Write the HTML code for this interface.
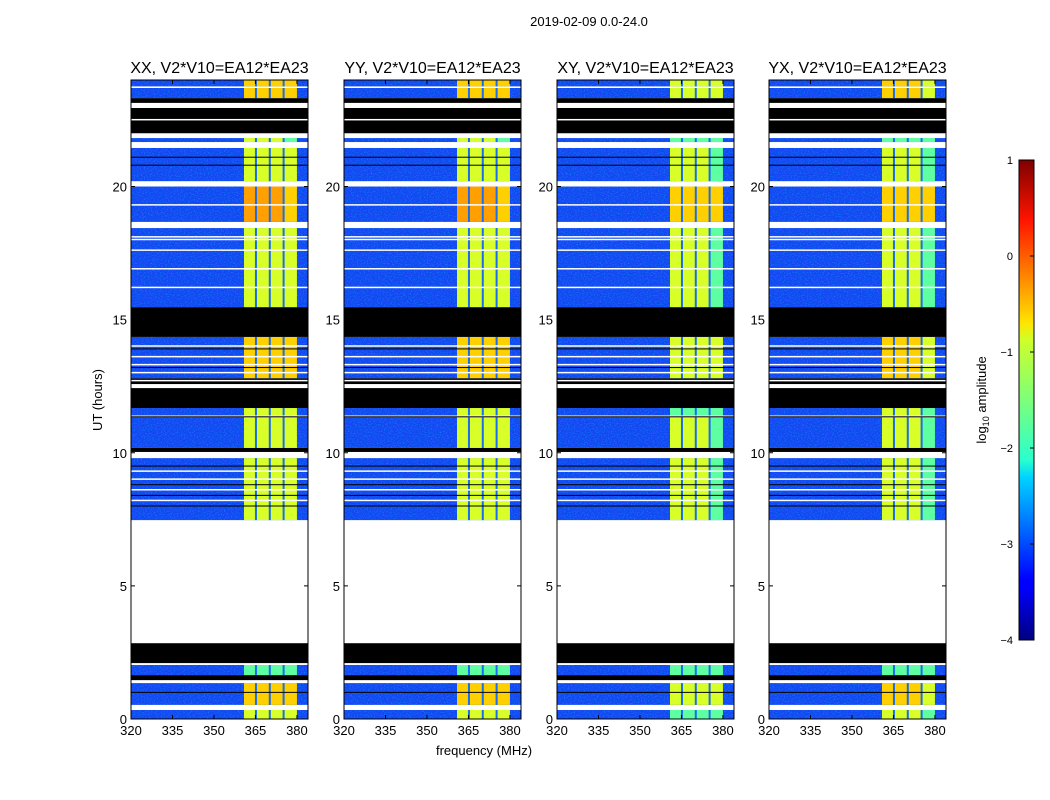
<!DOCTYPE html>
<html><head><meta charset="utf-8"><style>
body{margin:0;background:#fff;}
svg{display:block;font-family:"Liberation Sans",sans-serif;}
</style></head><body>
<svg id="fig" width="1050" height="800" viewBox="0 0 1050 800">
<defs>
<linearGradient id="jet" x1="0" y1="1" x2="0" y2="0">
<stop offset="0" stop-color="#00007f"/><stop offset="0.11" stop-color="#0000ff"/>
<stop offset="0.125" stop-color="#0000ff"/><stop offset="0.34" stop-color="#00d4ff"/>
<stop offset="0.375" stop-color="#29ffce"/><stop offset="0.5" stop-color="#7dff7a"/>
<stop offset="0.625" stop-color="#ceff29"/><stop offset="0.66" stop-color="#ffe500"/>
<stop offset="0.875" stop-color="#ff1400"/><stop offset="1" stop-color="#7f0000"/>
</linearGradient>
<filter id="noise" x="0" y="0" width="100%" height="100%">
<feTurbulence type="fractalNoise" baseFrequency="0.7 0.9" numOctaves="1" seed="3"/>
<feColorMatrix type="matrix" values="0 0 0 0 0  0 0 0 0 0.85  0 0 0 0 1  0 0 0 1.6 -0.75"/>
<feComposite in2="SourceGraphic" operator="in"/>
</filter>
</defs>
<text x="589" y="26" font-size="13" text-anchor="middle">2019-02-09 0.0-24.0</text>
<g id="panels"></g>
<text x="484" y="755" font-size="13" text-anchor="middle">frequency (MHz)</text>
<text x="0" y="0" font-size="13" text-anchor="middle" transform="translate(102,400) rotate(-90)">UT (hours)</text>
<g>
<rect x="1019" y="160" width="15" height="480" fill="url(#jet)" stroke="#000" stroke-width="1"/>
<g id="cbticks"></g>
<text x="0" y="0" font-size="13" text-anchor="middle" transform="translate(986,400) rotate(-90)">log<tspan font-size="9" dy="3">10</tspan><tspan dy="-3"> amplitude</tspan></text>
</g>
</svg>
<script>
const panelTitles=["XX, V2*V10=EA12*EA23","YY, V2*V10=EA12*EA23","XY, V2*V10=EA12*EA23","YX, V2*V10=EA12*EA23"];
const panelLevelShift=[0,0,-0.7,-0.5];
const segments=[[0,0.34,'d',1],[0.34,0.53,'w',0],[0.53,1.35,'d',2],[1.35,1.46,'w',0],[1.46,1.65,'k',0],[1.65,2.03,'d',0],[2.03,2.1,'w',0],[2.1,2.85,'k',0],[2.85,7.47,'w',0],[7.47,9.8,'d',1.4],[9.8,10.03,'w',0],[10.03,10.18,'k',0],[10.18,11.34,'d',1.2],[11.34,11.4,'w',0],[11.4,11.68,'d',1],[11.68,12.43,'k',0],[12.43,12.58,'w',0],[12.58,12.8,'k',0],[12.8,14.35,'d',2],[14.35,15.47,'k',0],[15.47,18.44,'d',1.3],[18.44,18.67,'w',0],[18.67,20.0,'d',2.8],[20.0,20.2,'w',0],[20.2,21.45,'d',1.2],[21.45,21.67,'w',0],[21.67,21.82,'d',0.5],[21.82,22.0,'w',0],[22.0,22.95,'k',0],[22.95,23.14,'w',0],[23.14,23.32,'k',0],[23.32,23.7,'d',2],[23.7,23.76,'w',0],[23.76,24,'d',2]];
const whiteLines=[0.45,8.2,8.6,9.0,9.3,12.7,13.0,13.3,13.6,14.0,16.2,16.9,17.6,18.0,18.1,19.3,22.5];
const blackLines=[1.0,8.0,8.4,8.8,9.5,10.1,11.35,12.3,13.2,13.9,20.8,21.1];
const bandEdges=[360.5,365,370,375,380];
const xTicks=[320,335,350,365,380];
const yTicks=[0,5,10,15,20];
const cbTicks=[1,0,-1,-2,-3,-4];
const panelX=[131,344,557,769];
const PW=177, Y0=719, Y1=80;
const NS="http://www.w3.org/2000/svg";
function el(t,a,p){const e=document.createElementNS(NS,t);for(const k in a)e.setAttribute(k,a[k]);p.appendChild(e);return e;}
function levelColor(l){const c=['#5effa0','#d8ff28','#ffd000','#ffa000','#ff4a00'];l=Math.max(0,Math.min(4,Math.round(l)));return c[l];}
const root=document.getElementById('panels');
panelTitles.forEach((title,pi)=>{
  const x0=panelX[pi];
  const xs=f=>x0+(f-320)*PW/64;
  const ys=h=>Y0-(h)*(Y0-Y1)/24;
  const g=el('g',{},root);
  
  
  segments.forEach(s=>{
    const y=ys(s[1]),h=ys(s[0])-ys(s[1]);
    if(s[2]==='d'){
      const r=el('rect',{x:x0,y:y,width:PW,height:h,fill:'#1546f2'},g);
      
      
      el('rect',{x:x0,y:y,width:PW,height:h,fill:'#fff',filter:'url(#noise)',opacity:0.6},g);
      for(let b=0;b<bandEdges.length-1;b++){
        const lv=s[3]+panelLevelShift[pi]+(b===3?-0.4:0);
        const br=el('rect',{x:xs(bandEdges[b])+1,y:y,width:xs(bandEdges[b+1])-xs(bandEdges[b])-1,height:h,fill:levelColor(lv)},g);
        
        
      }
      bandEdges.slice(1,4).forEach(f=>{el('rect',{x:xs(f)-0.5,y:y,width:2,height:h,fill:'#1a6cf0'},g);});
    } else {
      const r=el('rect',{x:x0,y:y,width:PW,height:h,fill:s[2]==='k'?'#000':'#fff'},g);
      
      
    }
  });
  whiteLines.forEach(h=>{el('rect',{x:x0,y:ys(h)-1,width:PW,height:1.5,fill:'#fff'},g);});
  blackLines.forEach(h=>{el('rect',{x:x0,y:ys(h)-0.5,width:PW,height:1,fill:'#000'},g);});
  el('rect',{x:x0,y:Y1,width:PW,height:Y0-Y1,fill:'none',stroke:'#000','stroke-width':1},g);
  const t=el('text',{x:x0+PW/2,y:73,'font-size':16,'text-anchor':'middle'},g);
  t.textContent=title;
  
  
  xTicks.forEach(v=>{
    const x=xs(v);
    el('line',{x1:x,x2:x,y1:Y0,y2:Y0-4,stroke:'#000'},g);
    el('line',{x1:x,x2:x,y1:Y1,y2:Y1+4,stroke:'#000'},g);
    const tl=el('text',{x:x,y:Y0+16,'font-size':13,'text-anchor':'middle'},g);
    tl.textContent=v;
    
    
  });
  yTicks.forEach(v=>{
    const y=ys(v);
    el('line',{x1:x0,x2:x0+4,y1:y,y2:y,stroke:'#000'},g);
    el('line',{x1:x0+PW,x2:x0+PW-4,y1:y,y2:y,stroke:'#000'},g);
    const tl=el('text',{x:x0-4,y:y+5,'font-size':13,'text-anchor':'end'},g);
    tl.textContent=v;
    
    
  });
});
const cb=document.getElementById('cbticks');
cbTicks.forEach(v=>{
  const y=160+(1-v)*96;
  el('line',{x1:1030,x2:1034,y1:y,y2:y,stroke:'#000'},cb);
  const tl=el('text',{x:1013,y:y+4,'font-size':11,'text-anchor':'end'},cb);
  tl.textContent=v<0?'\u2212'+(-v):String(v);
  
  
});
</script>
</body></html>
